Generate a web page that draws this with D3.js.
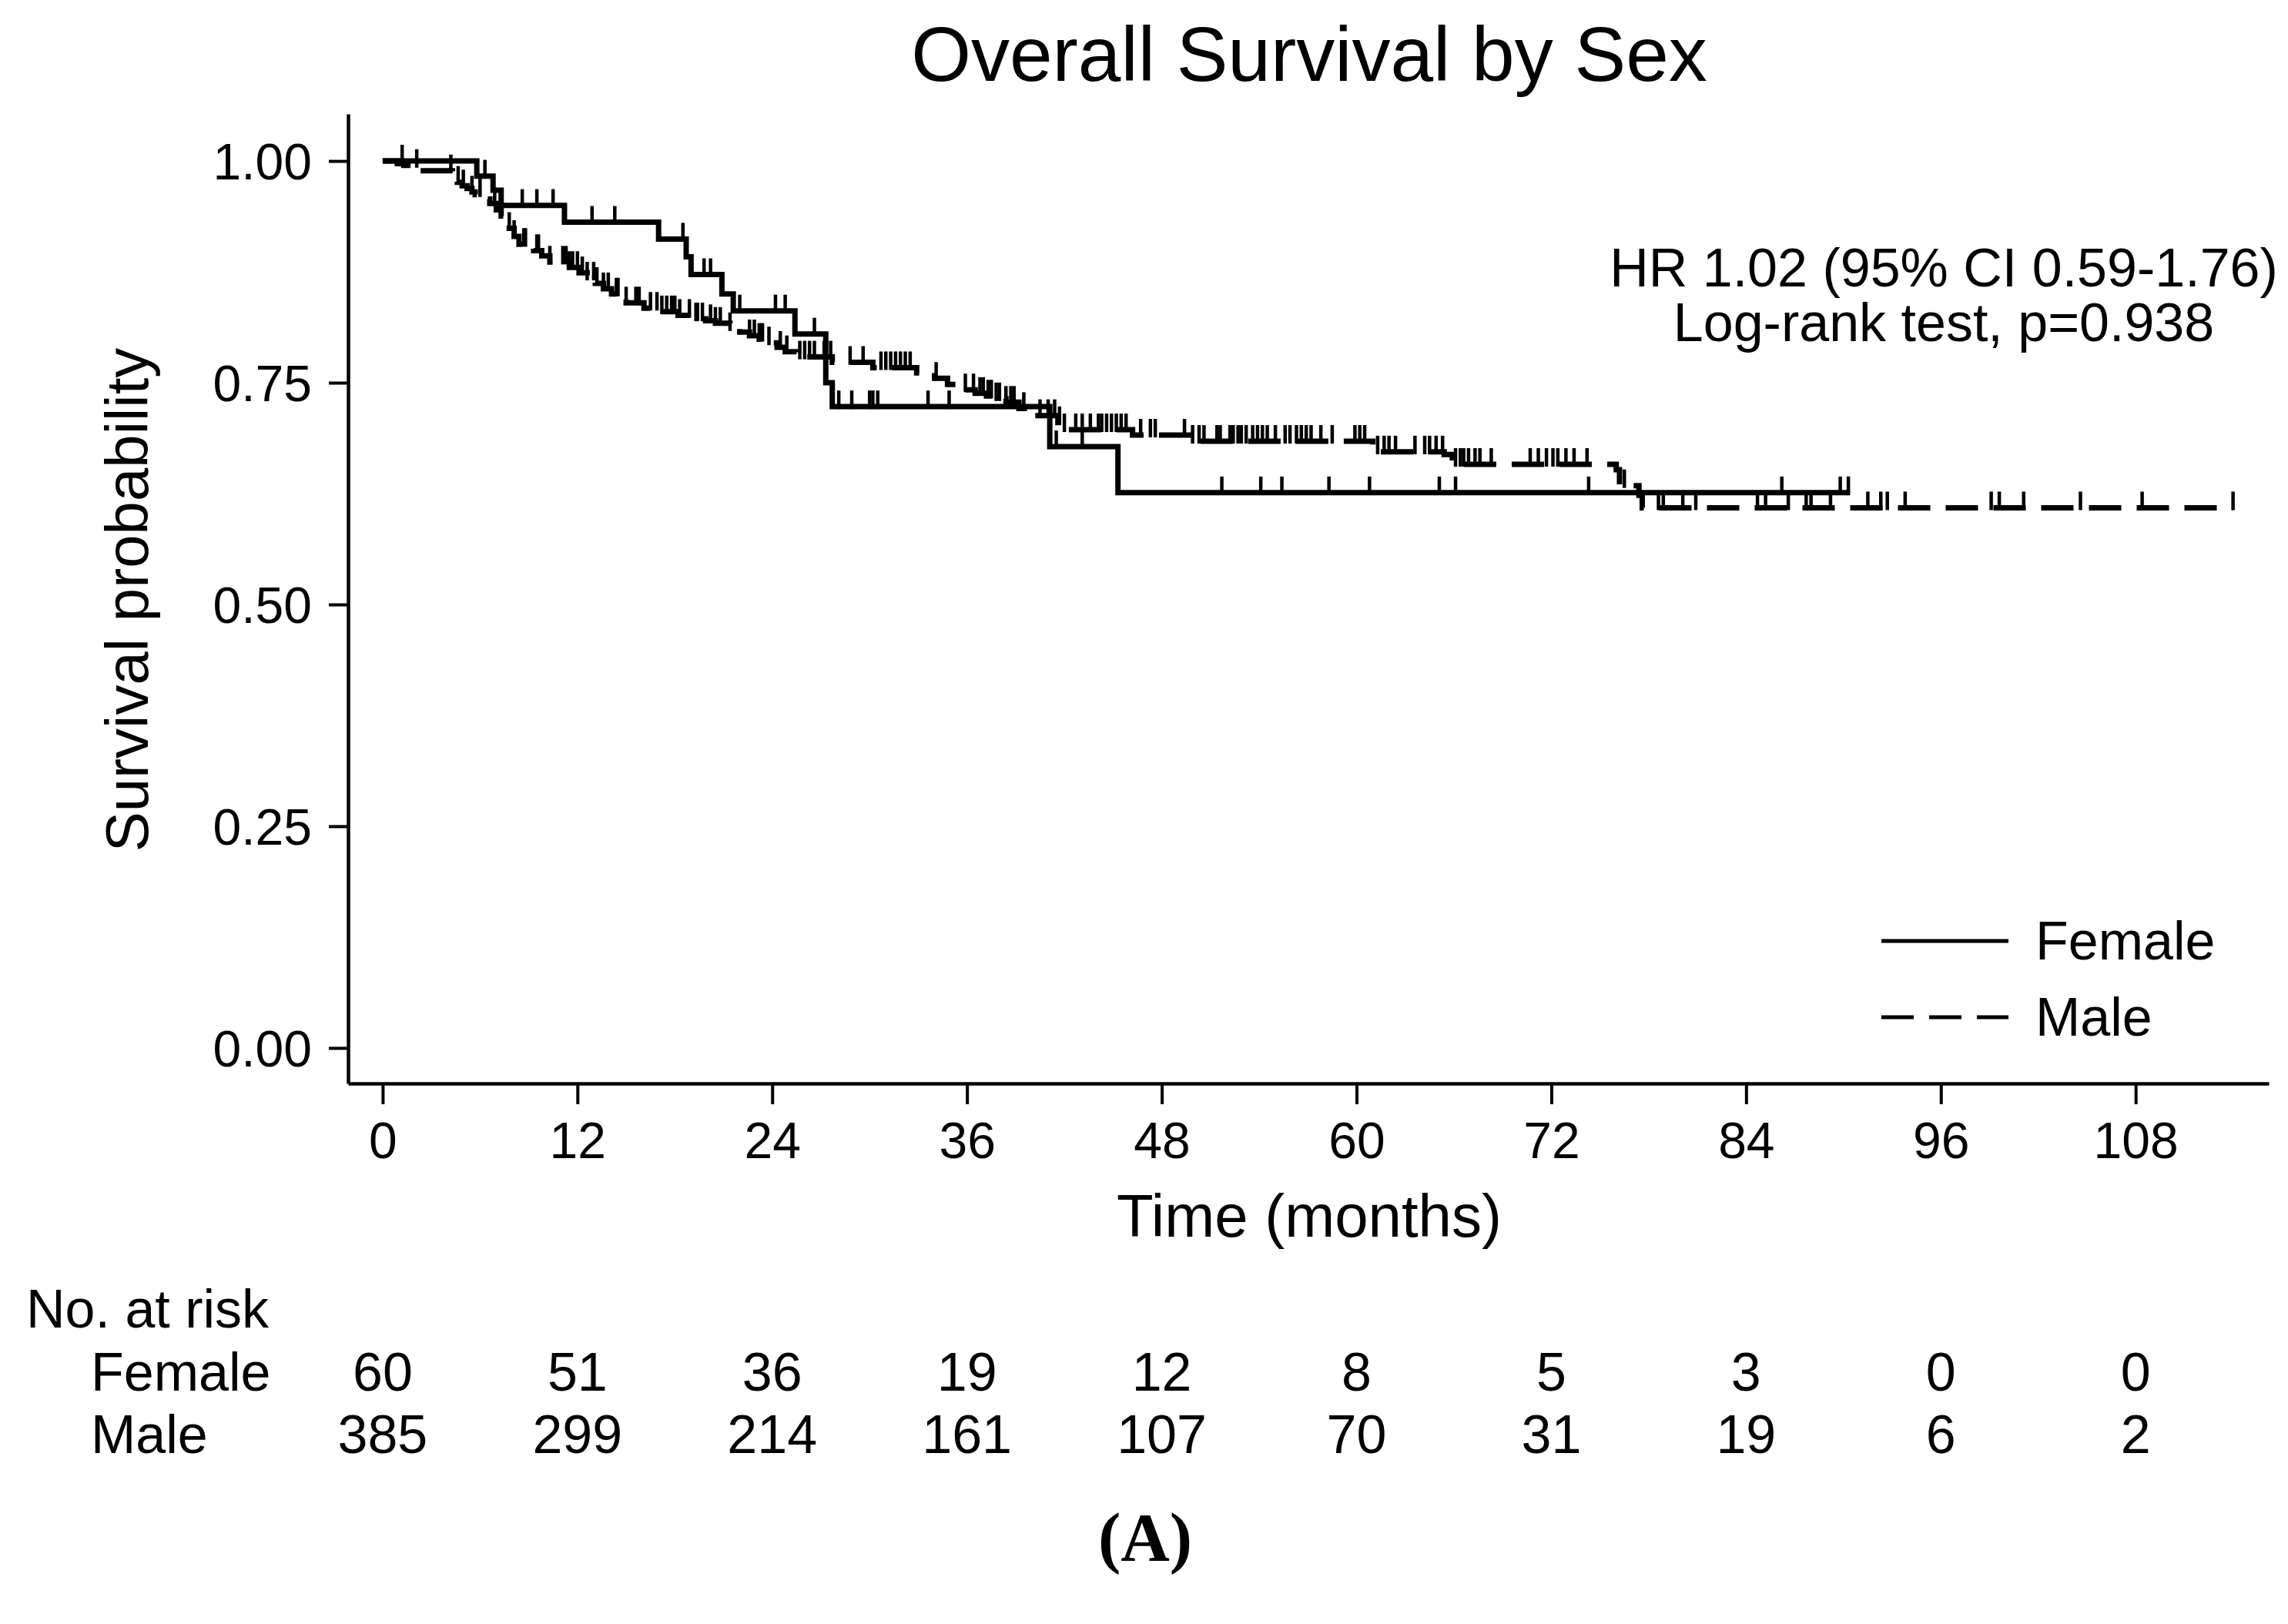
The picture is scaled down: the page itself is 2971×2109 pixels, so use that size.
<!DOCTYPE html>
<html>
<head>
<meta charset="utf-8">
<script src="https://cdn.jsdelivr.net/npm/d3@7/dist/d3.min.js"></script>
<style>
  html, body { margin: 0; padding: 0; background: #fff; }
  svg { display: block; }
</style>
</head>
<body>
<svg id="chart" width="2971" height="2109"></svg>
<script>
// ---------------- DATA ----------------
const xTicks = [0, 12, 24, 36, 48, 60, 72, 84, 96, 108];
const yTicks = [0, 0.25, 0.5, 0.75, 1.0];
const yTickLabels = ["0.00", "0.25", "0.50", "0.75", "1.00"];

const groups = ["Female", "Male"];

// Female Kaplan-Meier steps (time in months, survival after the step)
const femaleEventTimes = [5.8, 6.8, 7.3, 11.2, 17.0, 18.7, 19.0, 20.9, 21.6, 25.4, 27.3, 27.7, 41.1, 45.3];
const femaleSurvival   = [0.983, 0.967, 0.950, 0.931, 0.912, 0.892, 0.872, 0.850, 0.831, 0.805, 0.750, 0.723, 0.678, 0.626];
const femaleCensorTimes = [1.2, 6.3, 8.6, 9.5, 10.5, 12.9, 14.3, 18.5, 19.8, 20.2, 22.0, 24.2, 24.8, 26.6,
  28.1, 28.9, 30.0, 30.2, 30.5, 33.6, 34.9, 41.5, 43.1, 51.7, 54.1, 55.4, 58.3, 60.8, 65.1, 66.1, 74.3,
  86.2, 89.8, 90.3];
const femaleEnd = 90.4;

// Male Kaplan-Meier steps
const maleEventTimes = [0.9, 1.3, 2.3, 4.3, 4.6, 4.9, 5.2, 5.5, 5.7, 6.2, 6.6, 7.0, 7.3, 7.6, 7.8, 8.1, 8.4,
  9.0, 9.3, 9.8, 10.3, 11.5, 12.1, 12.6, 13.1, 13.6, 14.1, 14.6, 15.0, 16.1, 17.1, 18.2, 19.2, 19.9, 20.5,
  21.4, 22.0, 22.6, 23.2, 23.8, 24.3, 24.8, 25.5, 27.7, 30.2, 32.9, 34.0, 34.8, 35.6, 36.5, 37.2, 37.8,
  38.4, 39.2, 39.7, 41.6, 42.0, 46.2, 49.8, 61.0, 65.4, 65.9, 76.0, 76.2, 77.4, 77.6];
const maleSurvival = [0.997, 0.995, 0.989, 0.979, 0.976, 0.972, 0.969, 0.965, 0.962, 0.957, 0.952, 0.945,
  0.938, 0.931, 0.924, 0.915, 0.906, 0.902, 0.899, 0.893, 0.886, 0.880, 0.874, 0.868, 0.862, 0.856, 0.850,
  0.845, 0.840, 0.834, 0.830, 0.826, 0.822, 0.820, 0.817, 0.811, 0.807, 0.803, 0.799, 0.795, 0.790, 0.785,
  0.779, 0.773, 0.767, 0.761, 0.755, 0.748, 0.742, 0.738, 0.735, 0.732, 0.728, 0.721, 0.713, 0.705, 0.697,
  0.691, 0.684, 0.672, 0.669, 0.658, 0.652, 0.634, 0.623, 0.609];
const maleCensorTimes = [2.1, 4.2, 4.65, 4.97, 5.5, 6.0, 6.9, 7.8, 8.1, 8.7, 8.8, 9.5, 9.6, 10.3, 11.1, 11.3,
  11.5, 11.7, 12.0, 12.3, 12.6, 13.0, 13.2, 13.6, 13.9, 14.4, 14.5, 15.0, 15.6, 15.8, 16.5, 16.9, 17.2, 17.5,
  17.8, 18.0, 18.3, 18.9, 19.3, 19.4, 19.7, 20.2, 20.5, 20.8, 21.4, 22.6, 22.9, 23.2, 23.4, 23.8, 24.5, 24.9,
  25.7, 26.0, 26.3, 26.6, 27.2, 27.6, 28.8, 29.6, 30.7, 31.0, 31.3, 31.6, 31.9, 32.2, 32.5, 34.1, 35.9, 36.4,
  36.8, 37.0, 37.3, 37.5, 37.8, 38.0, 38.4, 38.7, 38.9, 39.5, 40.5, 41.0, 41.4, 41.7, 42.0, 42.7, 43.1, 43.6,
  44.1, 44.3, 44.6, 44.9, 45.2, 45.5, 45.8, 46.7, 47.3, 47.6, 49.4, 49.9, 50.3, 50.6, 51.4, 51.6, 52.2, 52.4,
  52.7, 52.9, 53.2, 53.6, 53.9, 54.2, 54.5, 55.0, 55.6, 55.9, 56.3, 56.6, 56.9, 57.2, 57.8, 58.5, 59.9, 60.2,
  60.5, 61.3, 61.7, 62.0, 62.4, 63.6, 64.2, 64.5, 64.9, 65.3, 66.1, 66.4, 66.6, 66.9, 67.3, 67.6, 68.3, 70.7,
  71.2, 71.7, 72.1, 72.4, 72.9, 73.4, 74.2, 76.5, 78.6, 78.9, 80.1, 80.9, 84.7, 85.2, 86.6, 87.7, 88.0, 89.2,
  91.5, 92.3, 92.7, 93.8, 99.1, 99.6, 101.1, 104.6, 108.4, 114.0];
const maleEnd = 114.0;

// Number at risk
const riskFemale = [60, 51, 36, 19, 12, 8, 5, 3, 0, 0];
const riskMale = [385, 299, 214, 161, 107, 70, 31, 19, 6, 2];

const titleText = "Overall Survival by Sex";
const xTitle = "Time (months)";
const yTitle = "Survival probability";
const annotationLines = ["HR 1.02 (95% CI 0.59-1.76)", "Log-rank test, p=0.938"];
const panelLabel = "(A)";

// ---------------- LAYOUT ----------------
const FONT = "'Liberation Sans', Arial, Helvetica, sans-serif";
const svg = d3.select("#chart");
svg.append("rect").attr("width", 2971).attr("height", 2109).attr("fill", "#fff");

const plotLeft = 452, plotRight = 2946, plotTop = 148, plotBottom = 1407;

const x = d3.scaleLinear().domain([-2.13, 116.2]).range([plotLeft, plotRight]);
const y = d3.scaleLinear().domain([-0.04, 1.053]).range([plotBottom, plotTop]);

// Axes
const yAxis = d3.axisLeft(y).tickValues(yTicks).tickFormat((d, i) => yTickLabels[i])
  .tickSize(25).tickSizeOuter(0).tickPadding(22);
const gy = svg.append("g").attr("transform", `translate(${plotLeft},0)`).call(yAxis);
gy.select(".domain").attr("stroke", "#000").attr("stroke-width", 4.5);
gy.selectAll(".tick line").attr("stroke", "#000").attr("stroke-width", 4);
gy.selectAll(".tick text").attr("font-family", FONT).attr("font-size", 66).attr("fill", "#000")
  .attr("dy", "0.36em");

const xAxis = d3.axisBottom(x).tickValues(xTicks).tickFormat(d3.format("d"))
  .tickSize(27).tickSizeOuter(0);
const gx = svg.append("g").attr("transform", `translate(0,${plotBottom})`).call(xAxis);
gx.select(".domain").attr("stroke", "#000").attr("stroke-width", 4.5);
gx.selectAll(".tick line").attr("stroke", "#000").attr("stroke-width", 4);
gx.selectAll(".tick text").attr("font-family", FONT).attr("font-size", 66).attr("fill", "#000")
  .attr("y", 97).attr("dy", null);

// Titles
svg.append("text").attr("x", 1700).attr("y", 105).attr("text-anchor", "middle")
  .attr("font-family", FONT).attr("font-size", 100).attr("fill", "#000").text(titleText);
svg.append("text").attr("x", 1700).attr("y", 1606).attr("text-anchor", "middle")
  .attr("font-family", FONT).attr("font-size", 78).attr("fill", "#000").text(xTitle);
svg.append("text").attr("transform", `translate(192,779) rotate(-90)`).attr("text-anchor", "middle")
  .attr("font-family", FONT).attr("font-size", 78).attr("fill", "#000").text(yTitle);

// Annotation (one text block, two lines)
const ann = svg.append("text").attr("text-anchor", "middle")
  .attr("font-family", FONT).attr("font-size", 70).attr("fill", "#000");
annotationLines.forEach((t, i) => {
  ann.append("tspan").attr("x", 2524).attr("y", 372 + i * 71).text(t);
});

// KM curves
function buildSeries(times, surv, end) {
  const pts = [[0, 1]];
  times.forEach((t, i) => pts.push([t, surv[i]]));
  pts.push([end, surv[surv.length - 1]]);
  return pts;
}
function survAt(times, surv, t) {
  let s = 1;
  for (let i = 0; i < times.length; i++) { if (times[i] <= t) s = surv[i]; }
  return s;
}
const line = d3.line().x(d => x(d[0])).y(d => y(d[1])).curve(d3.curveStepAfter);

const series = [
  { name: "Female", times: femaleEventTimes, surv: femaleSurvival, cens: femaleCensorTimes, end: femaleEnd, dash: null },
  { name: "Male", times: maleEventTimes, surv: maleSurvival, cens: maleCensorTimes, end: maleEnd, dash: "42,20" }
];

const TICK_H = 21;
series.forEach(s => {
  const g = svg.append("g");
  g.append("path").datum(buildSeries(s.times, s.surv, s.end))
    .attr("d", line).attr("fill", "none").attr("stroke", "#000").attr("stroke-width", 7)
    .attr("stroke-dasharray", s.dash);
  g.selectAll("line.cens").data(s.cens).enter().append("line")
    .attr("x1", d => x(d)).attr("x2", d => x(d))
    .attr("y1", d => y(survAt(s.times, s.surv, d)) + 3)
    .attr("y2", d => y(survAt(s.times, s.surv, d)) - TICK_H)
    .attr("stroke", "#000").attr("stroke-width", 4.5);
});

// Legend
series.forEach((s, i) => {
  const ly = 1222 + i * 99;
  svg.append("line").attr("x1", 2443).attr("x2", 2608).attr("y1", ly).attr("y2", ly)
    .attr("stroke", "#000").attr("stroke-width", 5).attr("stroke-dasharray", s.dash);
  svg.append("text").attr("x", 2643).attr("y", ly + 24).attr("font-family", FONT)
    .attr("font-size", 70).attr("fill", "#000").text(s.name);
});

// Number at risk table
svg.append("text").attr("x", 34).attr("y", 1724).attr("font-family", FONT)
  .attr("font-size", 70).attr("fill", "#000").text("No. at risk");
const riskRows = [riskFemale, riskMale];
riskRows.forEach((row, r) => {
  const by = 1806 + r * 81;
  svg.append("text").attr("x", 118).attr("y", by).attr("font-family", FONT)
    .attr("font-size", 70).attr("fill", "#000").text(groups[r]);
  row.forEach((v, i) => {
    svg.append("text").attr("x", x(xTicks[i])).attr("y", by).attr("text-anchor", "middle")
      .attr("font-family", FONT).attr("font-size", 70).attr("fill", "#000").text(v);
  });
});

// Panel label
svg.append("text").attr("x", 1487).attr("y", 2026).attr("text-anchor", "middle")
  .attr("font-family", "'Liberation Serif', 'Times New Roman', serif").attr("font-weight", "bold")
  .attr("font-size", 88).attr("fill", "#000").text(panelLabel);
</script>
</body>
</html>
